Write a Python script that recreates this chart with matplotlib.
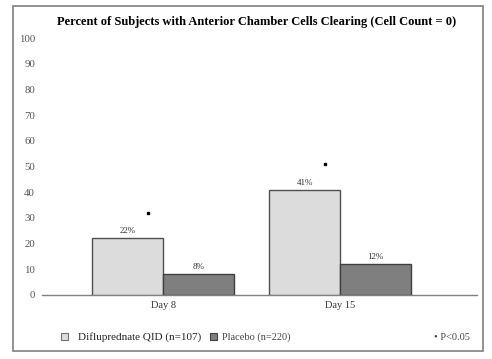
import matplotlib
matplotlib.use("Agg")
import matplotlib.pyplot as plt
from matplotlib.patches import Rectangle

categories = ["Day 8", "Day 15"]
difluprednate = [22, 41]
placebo = [8, 12]
sig_markers = [32, 51]
labels_dif = ["22%", "41%"]
labels_pla = ["8%", "12%"]
yticks = list(range(0, 101, 10))

W, H = 492, 359
fig = plt.figure(figsize=(W / 100, H / 100), dpi=100)
plt.rcParams['font.family'] = ['Liberation Serif', 'DejaVu Serif']

# outer border
fig.patches.append(Rectangle((13 / W, 1 - 351 / H), (483 - 13) / W, (351 - 6) / H,
                             transform=fig.transFigure, fill=False,
                             edgecolor='#808080', linewidth=1.2))

ax_left, ax_right = 42, 477
ax_top, ax_bot = 38, 295
ax = fig.add_axes([ax_left / W, 1 - ax_bot / H, (ax_right - ax_left) / W, (ax_bot - ax_top) / H])
ax.set_facecolor('none')

x = list(range(len(categories)))
w = 0.4
ax.bar([i - w / 2 for i in x], difluprednate, width=w, color='#dcdcdc',
       edgecolor='#505050', linewidth=1.0, zorder=3)
ax.bar([i + w / 2 for i in x], placebo, width=w, color='#7f7f7f',
       edgecolor='#404040', linewidth=1.0, zorder=3)

for i in x:
    ax.text(i - w / 2, difluprednate[i] + 1.2, labels_dif[i], ha='center', va='bottom',
            fontsize=6.5, color='#333333')
    ax.text(i + w / 2, placebo[i] + 1.2, labels_pla[i], ha='center', va='bottom',
            fontsize=6.5, color='#333333')
    ax.plot(i - 0.085, sig_markers[i], marker='s', markersize=1.8, color='black',
            linestyle='none', zorder=4)

ax.set_xlim(-0.684, 1.774)
ax.set_ylim(0, 100)
ax.set_yticks(yticks)
ax.set_yticklabels([str(t) for t in yticks], fontsize=7.8, color='#555555')
ax.tick_params(axis='y', length=0, pad=5)
ax.set_xticks(x)
ax.set_xticklabels(categories, fontsize=7.5, color='#333333')
ax.tick_params(axis='x', length=0, pad=4)
for s in ['top', 'right', 'left']:
    ax.spines[s].set_visible(False)
ax.spines['bottom'].set_color('#808080')
ax.spines['bottom'].set_linewidth(1.0)

fig.text(257 / W, 1 - 22 / H, "Percent of Subjects with Anterior Chamber Cells Clearing (Cell Count = 0)",
         ha='center', va='center', fontsize=9, fontweight='bold', color='black')

# legend
ly = 1 - 337 / H
fig.patches.append(Rectangle((61 / W, ly - 3 / H), 7 / W, 7 / H, transform=fig.transFigure,
                             facecolor='#dcdcdc', edgecolor='#707070', linewidth=0.8))
fig.text(78 / W, ly, "Difluprednate QID (n=107)", ha='left', va='center', fontsize=8, color='#222222')
fig.patches.append(Rectangle((210 / W, ly - 3 / H), 7 / W, 7 / H, transform=fig.transFigure,
                             facecolor='#7f7f7f', edgecolor='#404040', linewidth=0.8))
fig.text(222 / W, ly, "Placebo (n=220)", ha='left', va='center', fontsize=7.5, color='#444444')
fig.text(434 / W, ly, "• P<0.05", ha='left', va='center', fontsize=7.5, color='#444444')

fig.savefig("out.png", dpi=100, facecolor='white')
